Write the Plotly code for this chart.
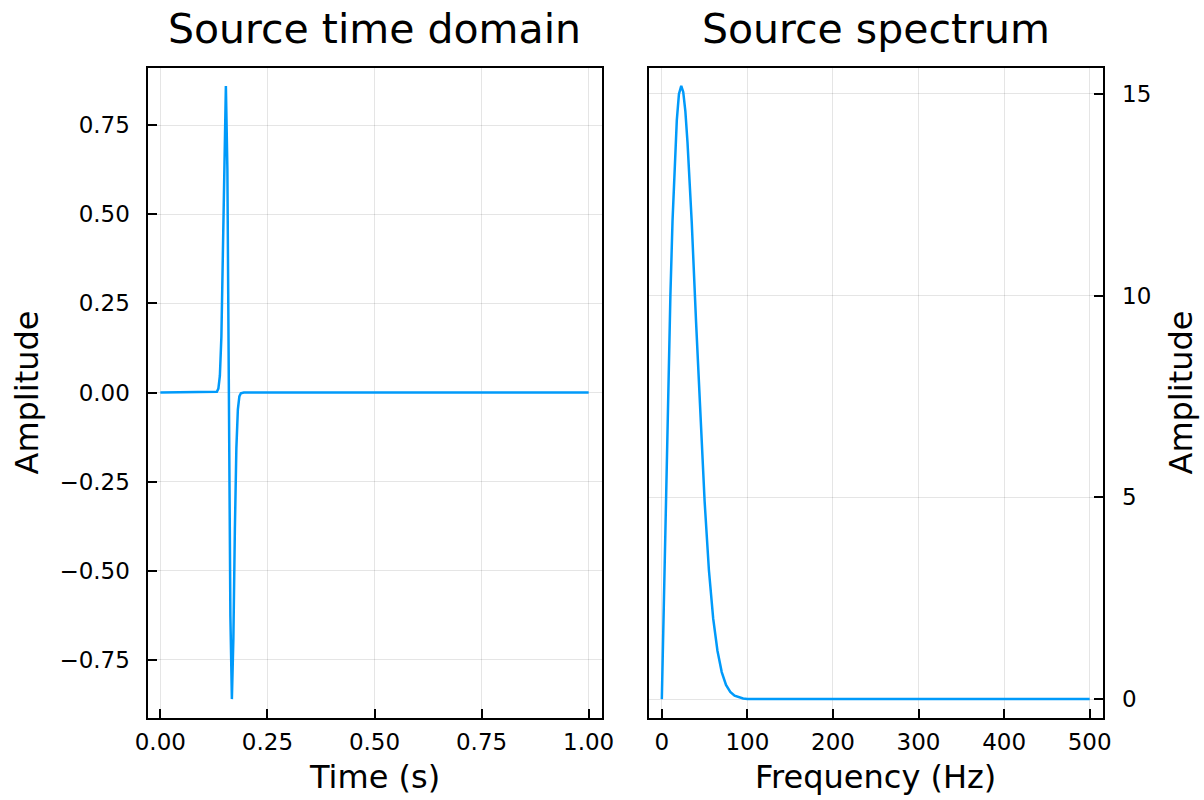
import plotly.graph_objects as go

# ---- data ----
time_s = [0.0, 0.125, 0.132, 0.1355, 0.139, 0.1425, 0.146, 0.1495, 0.153, 0.1565,
          0.16, 0.1635, 0.167, 0.1705, 0.174, 0.1775, 0.181, 0.1845, 0.188, 0.195, 1.0]
time_amp = [0.0, 0.0, 0.002, 0.011, 0.047, 0.156, 0.384, 0.691, 0.86, 0.626,
            0.0, -0.626, -0.86, -0.691, -0.384, -0.156, -0.047, -0.011, -0.002, 0.0, 0.0]

freq_hz = [0, 2, 5, 7.5, 10, 12.5, 15, 17.5, 20, 22.7, 25, 27.5, 30, 32.5, 35, 40, 45,
           50, 55, 60, 65, 70, 75, 80, 85, 90, 95, 100, 500]
spec_amp = [0.0, 2.2, 5.4, 7.84, 10.0, 11.86, 13.3, 14.35, 15.0, 15.2, 15.05, 14.57, 13.8,
            12.87, 11.8, 9.35, 6.95, 4.9, 3.2, 2.0, 1.2, 0.67, 0.35, 0.18, 0.085, 0.04,
            0.015, 0.005, 0.0]

time_ticks = [0.0, 0.25, 0.5, 0.75, 1.0]
amp_ticks = [-0.75, -0.5, -0.25, 0.0, 0.25, 0.5, 0.75]
freq_ticks = [0, 100, 200, 300, 400, 500]
spec_ticks = [0, 5, 10, 15]

titles = ["Source time domain", "Source spectrum"]
xlabels = ["Time (s)", "Frequency (Hz)"]
ylabel = "Amplitude"

# ---- layout geometry (pixels) ----
W, H = 1204, 800
FONT = "DejaVu Sans"
LINE = "#009AFA"
GRID = "rgba(0,0,0,0.1)"

def px(x):
    return x / W

def py(y):
    return 1 - y / H

L1, R1 = 147.5, 601.5
L2, R2 = 649.0, 1102.5
TOP, BOT = 67.5, 717.5

fig = go.Figure()
fig.add_trace(go.Scatter(x=time_s, y=time_amp, mode="lines",
                         line=dict(color=LINE, width=2.5), xaxis="x", yaxis="y",
                         showlegend=False))
fig.add_trace(go.Scatter(x=freq_hz, y=spec_amp, mode="lines",
                         line=dict(color=LINE, width=2.5), xaxis="x2", yaxis="y2",
                         showlegend=False))

axis_common = dict(
    showline=True, linecolor="black", linewidth=2, mirror=True,
    ticks="inside", ticklen=9, tickwidth=1.5, tickcolor="black",
    showgrid=True, gridcolor=GRID, gridwidth=1, zeroline=False,
    automargin=False,
    tickfont=dict(family=FONT, size=23, color="black"),
)

fig.update_layout(
    width=W, height=H,
    margin=dict(l=0, r=0, t=0, b=0, autoexpand=False),
    paper_bgcolor="white", plot_bgcolor="white",
    xaxis=dict(domain=[px(L1), px(R1)], range=[-0.03, 1.03], tickvals=time_ticks,
               tickformat=".2f", anchor="y", ticklabelstandoff=3, **axis_common),
    yaxis=dict(domain=[py(BOT), py(TOP)], range=[-0.9116, 0.9116], tickvals=amp_ticks,
               tickformat=".2f", anchor="x", ticklabelstandoff=11, **axis_common),
    xaxis2=dict(domain=[px(L2), px(R2)], range=[-15, 515], tickvals=freq_ticks,
                anchor="y2", ticklabelstandoff=3, **axis_common),
    yaxis2=dict(domain=[py(BOT), py(TOP)], range=[-0.456, 15.656], tickvals=spec_ticks,
                anchor="x2", side="right", ticklabelstandoff=13, **axis_common),
)

ann = []
for cx, t in zip([(L1 + R1) / 2, (L2 + R2) / 2], titles):
    ann.append(dict(x=px(cx), y=py(29), xref="paper", yref="paper", text=t,
                    showarrow=False, xanchor="center", yanchor="middle",
                    font=dict(family=FONT, size=41, color="black")))
for cx, t in zip([(L1 + R1) / 2, (L2 + R2) / 2], xlabels):
    ann.append(dict(x=px(cx), y=py(777), xref="paper", yref="paper", text=t,
                    showarrow=False, xanchor="center", yanchor="middle",
                    font=dict(family=FONT, size=32, color="black")))
for cx in [26, 1180]:
    ann.append(dict(x=px(cx), y=py((TOP + BOT) / 2), xref="paper", yref="paper",
                    text=ylabel, textangle=-90, showarrow=False,
                    xanchor="center", yanchor="middle",
                    font=dict(family=FONT, size=32, color="black")))
fig.update_layout(annotations=ann)

fig.write_html("out.html")
